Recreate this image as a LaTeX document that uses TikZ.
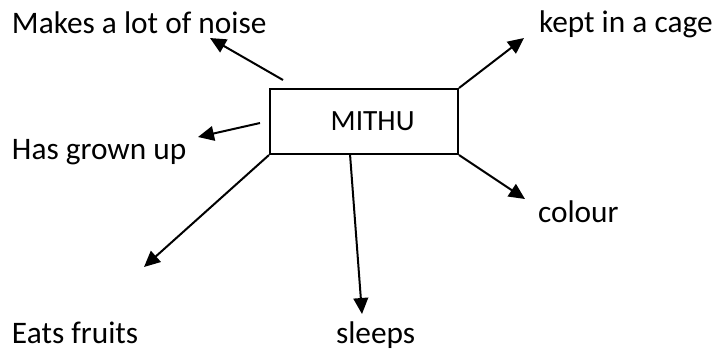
\documentclass[tikz,border=0pt]{standalone}
\usepackage{fontspec}
\setmainfont{Carlito}
\usetikzlibrary{arrows.meta,positioning}

\begin{document}
\begin{tikzpicture}[x=0.75pt,y=-0.75pt,line join=miter,>={Triangle[length=12pt,width=11pt]},line width=1.5pt,
  lbl/.style={anchor=base west,inner sep=0pt,font=\fontsize{23.5}{28}\selectfont},
  mainbox/.style={draw,minimum width=141pt,minimum height=48.75pt,inner sep=0pt,font=\fontsize{22}{26}\selectfont}]
\useasboundingbox (0,0) rectangle (717,355);

\node[mainbox] (mithu) at (364,121.5) {\hspace*{13pt}MITHU};

\node[lbl] (noise) at (11,33) {Makes a lot of noise};
\node[lbl] (cage) at (538,32) {kept in a cage};
\node[lbl] (grown) at (11,159) {Has grown up};
\node[lbl] (colour) at (537,222) {colour};
\node[lbl] (fruits) at (11,343) {Eats fruits};
\node[lbl] (sleeps) at (335,343) {sleeps};

%% arrow ends
\coordinate (noisefrom) at (283,80);
\coordinate (noisetip) at (210,38);
\coordinate (cagetip) at (524,38);
\coordinate (grownfrom) at (260,123);
\coordinate (growntip) at (198,137);
\coordinate (colourtip) at (525,199);
\coordinate (fruitstip) at (144,267);
\coordinate (sleepsfrom) at (350,154);
\coordinate (sleepstip) at (362,314);

\draw[->] (noisefrom) -- (noisetip);
\draw[->] (mithu.north east) -- (cagetip);
\draw[->] (grownfrom) -- (growntip);
\draw[->] (mithu.south east) -- (colourtip);
\draw[->] (mithu.south west) -- (fruitstip);
\draw[->] (sleepsfrom) -- (sleepstip);
\end{tikzpicture}
\end{document}
